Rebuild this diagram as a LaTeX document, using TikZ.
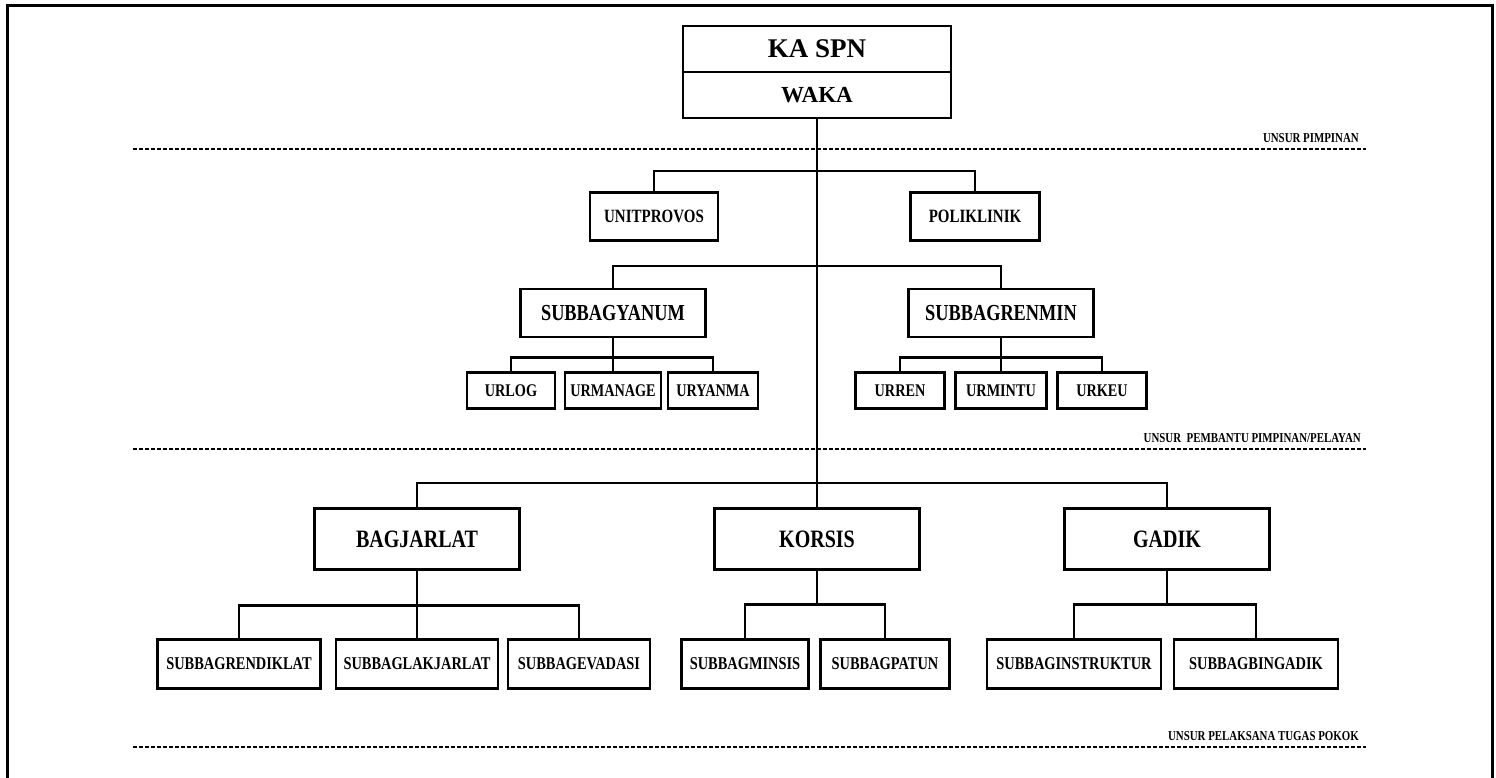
\documentclass[tikz,border=0pt]{standalone}
\usepackage{fontspec}
\setmainfont[FakeStretch=0.8]{Liberation Serif}
\newfontfamily\headfont{Liberation Serif}
\usepackage{tikz}
\usetikzlibrary{positioning}

\tikzset{
  unit/.style={draw, line width=2.8pt, fill=white, inner sep=0pt, outer sep=0pt},
  headbox/.style={unit, minimum width=268pt, minimum height=46pt},
  staffbox/.style={unit, minimum height=48pt, font=\bfseries\fontsize{18.75}{18.75}\selectfont},
  subbagbox/.style={unit, minimum height=48pt, font=\bfseries\fontsize{22.9}{22.9}\selectfont},
  urbox/.style={unit, minimum height=36pt, line width=2.6pt, font=\bfseries\fontsize{17.8}{17.8}\selectfont},
  bagbox/.style={unit, minimum width=205pt, minimum height=61pt, font=\bfseries\fontsize{25}{25}\selectfont},
  pokokbox/.style={unit, minimum height=49pt, line width=2.6pt, font=\bfseries\fontsize{18}{18}\selectfont},
  conn/.style={line width=2.9pt},
  sepline/.style={line width=1.9pt, dash pattern=on 4pt off 2pt},
  unsur/.style={anchor=base east, inner sep=0pt, font=\bfseries\fontsize{13.6}{13.6}\selectfont}
}

\begin{document}
\begin{tikzpicture}[x=1pt, y=-1pt]
\useasboundingbox (0,0) rectangle (1496,778);
\draw[line width=3pt] (7,778) -- (7,6) -- (1492,6) -- (1492,778);

\node[headbox, font=\headfont\bfseries\fontsize{27}{27}\selectfont] (kaspn) at (817,49) {KA SPN};
\node[headbox, font=\headfont\bfseries\fontsize{23}{23}\selectfont, below=0pt of kaspn] (waka) {WAKA};

\node[staffbox, minimum width=128pt] (unitprovos) at (654,216.5) {UNITPROVOS};
\node[staffbox, minimum width=129pt] (poliklinik) at (975,216.5) {POLIKLINIK};

\node[subbagbox, minimum width=185pt] (subbagyanum) at (613,313) {SUBBAGYANUM};
\node[subbagbox, minimum width=185pt] (subbagrenmin) at (1001,313) {SUBBAGRENMIN};

\node[urbox, minimum width=88pt] (urlog) at (511,390.5) {URLOG};
\node[urbox, minimum width=96pt] (urmanage) at (613,390.5) {URMANAGE};
\node[urbox, minimum width=90pt] (uryanma) at (713,390.5) {URYANMA};
\node[urbox, minimum width=89pt] (urren) at (900,390.5) {URREN};
\node[urbox, minimum width=91pt] (urmintu) at (1001,390.5) {URMINTU};
\node[urbox, minimum width=89pt] (urkeu) at (1102,390.5) {URKEU};

\node[bagbox] (bagjarlat) at (417,539) {BAGJARLAT};
\node[bagbox] (korsis) at (817,539) {KORSIS};
\node[bagbox] (gadik) at (1167,539) {GADIK};

\node[pokokbox, minimum width=163pt] (subrendiklat) at (239,664) {SUBBAGRENDIKLAT};
\node[pokokbox, minimum width=162pt] (sublakjarlat) at (417,664) {SUBBAGLAKJARLAT};
\node[pokokbox, minimum width=142pt] (subevadasi) at (579,664) {SUBBAGEVADASI};
\node[pokokbox, minimum width=127pt] (subminsis) at (745,664) {SUBBAGMINSIS};
\node[pokokbox, minimum width=129pt] (subpatun) at (885,664) {SUBBAGPATUN};
\node[pokokbox, minimum width=174pt] (subinstruktur) at (1074,664) {SUBBAGINSTRUKTUR};
\node[pokokbox, minimum width=164pt] (subbingadik) at (1256,664) {SUBBAGBINGADIK};

\coordinate (staffbar) at (817,171);
\coordinate (subbagbar) at (817,266);
\coordinate (bagbar) at (817,483);

\draw[conn] (waka.south) -- (bagbar);
\draw[conn] (unitprovos.north) |- (staffbar) -| (poliklinik.north);
\draw[conn] (subbagyanum.north) |- (subbagbar) -| (subbagrenmin.north);
\draw[conn] (bagjarlat.north) |- (bagbar) -| (gadik.north);
\draw[conn] (bagbar) -- (korsis.north);

\draw[conn] (subbagyanum.south) -- (urmanage.north);
\draw[conn] (urlog.north) -- ++(0,-15) -| (uryanma.north);
\draw[conn] (subbagrenmin.south) -- (urmintu.north);
\draw[conn] (urren.north) -- ++(0,-15) -| (urkeu.north);

\draw[conn] (bagjarlat.south) -- (sublakjarlat.north);
\draw[conn] (subrendiklat.north) -- ++(0,-34) -| (subevadasi.north);
\draw[conn] (korsis.south) -- ++(0,35) coordinate (korsisbar);
\draw[conn] (subminsis.north) |- (korsisbar) -| (subpatun.north);
\draw[conn] (gadik.south) -- ++(0,35) coordinate (gadikbar);
\draw[conn] (subinstruktur.north) |- (gadikbar) -| (subbingadik.north);

\draw[sepline] (133,149) -- (1366,149);
\draw[sepline] (133,449) -- (1366,449);
\draw[sepline] (133,747) -- (1366,747);

\node[unsur] (pimpinan) at (1359,143) {UNSUR PIMPINAN};
\node[unsur] (pembantu) at (1361,442) {UNSUR~~PEMBANTU PIMPINAN/PELAYAN};
\node[unsur] (pelaksana) at (1359,740) {UNSUR PELAKSANA TUGAS POKOK};
\end{tikzpicture}
\end{document}
